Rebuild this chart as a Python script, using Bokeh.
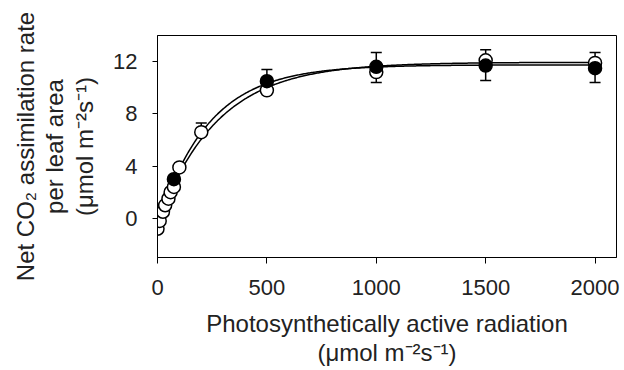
import numpy as np
from bokeh.plotting import figure
from bokeh.models import Range1d, FixedTicker, Whisker, ColumnDataSource, TeeHead
from bokeh.embed import file_html
from bokeh.resources import INLINE

# ---------------- data ----------------
par_open = [0, 10, 25, 35, 50, 60, 75, 100, 200, 500, 1000, 1500, 2000]
a_open = [-0.8, -0.2, 0.5, 1.0, 1.5, 2.0, 2.4, 3.9, 6.6, 9.8, 11.2, 12.1, 11.9]
par_filled = [75, 500, 1000, 1500, 2000]
a_filled = [3.0, 10.5, 11.6, 11.7, 11.5]

# error bars as drawn (one-sided)
open_up_par = [200, 1500, 2000]
open_up_a = [6.6, 12.1, 11.9]
open_up_err = [0.7, 0.8, 0.8]
open_dn_par = [1000]
open_dn_a = [11.2]
open_dn_err = [0.8]
filled_up_par = [500, 1000]
filled_up_a = [10.5, 11.6]
filled_up_err = [0.9, 1.1]
filled_dn_par = [1500, 2000]
filled_dn_a = [11.7, 11.5]
filled_dn_err = [1.15, 1.1]

# fitted light-response curves: A = y0 + (asym - y0) * (1 - exp(-k * PAR))
fit_open = dict(y0=-0.4, asym=11.95, k=0.0037)
fit_filled = dict(y0=-0.5, asym=11.75, k=0.0043)

x_ticks = [0, 500, 1000, 1500, 2000]
y_ticks = [0, 4, 8, 12]
x_title = "Photosynthetically active radiation\n(\u03bcmol m\u207b\u00b2s\u207b\u00b9)"
y_title = "Net CO\u2082 assimilation rate\nper leaf area\n(\u03bcmol m\u207b\u00b2s\u207b\u00b9)"

FONT = "Liberation Sans"
TXT = "#222222"

# ---------------- figure ----------------
p = figure(width=624, height=370, x_range=Range1d(0, 2098), y_range=Range1d(-3, 14),
           output_backend="svg", toolbar_location=None,
           min_border_left=157, min_border_right=8, min_border_top=35, min_border_bottom=113)
p.background_fill_color = "white"
p.border_fill_color = "white"
p.outline_line_color = "black"
p.outline_line_width = 1
p.xgrid.grid_line_color = None
p.ygrid.grid_line_color = None

for ax in (p.xaxis, p.yaxis):
    ax.axis_line_color = "black"
    ax.major_tick_line_color = "black"
    ax.minor_tick_line_color = None
    ax.major_tick_in = 0
    ax.major_label_text_font = FONT
    ax.major_label_text_font_size = "22px"
    ax.major_label_text_color = TXT
    ax.axis_label_text_font = FONT
    ax.axis_label_text_font_size = "24px"
    ax.axis_label_text_font_style = "normal"
    ax.axis_label_text_color = TXT
    ax.axis_label_text_line_height = 1.1
p.xaxis.ticker = FixedTicker(ticks=x_ticks)
p.yaxis.ticker = FixedTicker(ticks=y_ticks)
p.xaxis.major_tick_out = 6
p.yaxis.major_tick_out = 5
p.xaxis.major_label_standoff = 16
p.yaxis.major_label_standoff = 15
p.xaxis.axis_label = x_title
p.yaxis.axis_label = y_title
p.xaxis.axis_label_standoff = 12
p.yaxis.axis_label_standoff = 12


def add_whisker(xs, ys, errs, up):
    src = ColumnDataSource(dict(x=xs, base_y=ys, top=[y + e for y, e in zip(ys, errs)],
                                bot=[y - e for y, e in zip(ys, errs)]))
    head = TeeHead(size=11, line_color="black", line_width=1.5)
    if up:
        w = Whisker(source=src, base="x", lower="base_y", upper="top", dimension="height",
                    upper_head=head, lower_head=None, line_color="black", line_width=1.5,
                    level="underlay")
    else:
        w = Whisker(source=src, base="x", lower="bot", upper="base_y", dimension="height",
                    lower_head=head, upper_head=None, line_color="black", line_width=1.5,
                    level="underlay")
    p.add_layout(w)


add_whisker(open_up_par, open_up_a, open_up_err, True)
add_whisker(open_dn_par, open_dn_a, open_dn_err, False)
add_whisker(filled_up_par, filled_up_a, filled_up_err, True)
add_whisker(filled_dn_par, filled_dn_a, filled_dn_err, False)

xc = np.linspace(0, 2000, 401)
for fit in (fit_filled, fit_open):
    yc = fit["y0"] + (fit["asym"] - fit["y0"]) * (1 - np.exp(-fit["k"] * xc))
    p.line(xc, yc, line_color="black", line_width=1.5)

p.scatter(par_open, a_open, marker="circle", size=13, fill_color="white",
          line_color="black", line_width=1.5)
p.scatter(par_filled, a_filled, marker="circle", size=13, fill_color="black",
          line_color="black", line_width=1.5)

open("out.html", "w").write(file_html(p, INLINE))
